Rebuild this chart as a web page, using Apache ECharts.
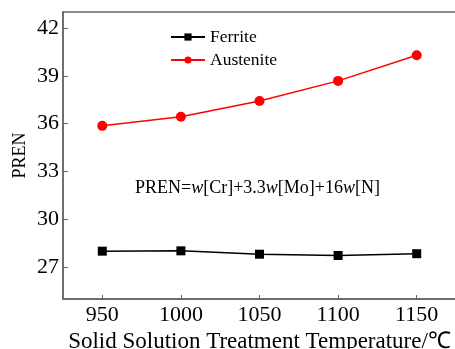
<!DOCTYPE html>
<html><head><meta charset="utf-8">
<script src="https://cdn.jsdelivr.net/npm/echarts@6/dist/echarts.min.js"></script>
<style>html,body{margin:0;padding:0;background:#fff}#c{width:455px;height:349px}</style>
</head><body><div id="c"></div>
<script>
var categories = [950, 1000, 1050, 1100, 1150];
var ferrite = [28.0, 28.02, 27.81, 27.73, 27.84];
var austenite = [35.86, 36.43, 37.42, 38.68, 40.29];
var yTicks = [27, 30, 33, 36, 39, 42];
var xTicks = [950, 1000, 1050, 1100, 1150];

var font = 'Liberation Serif';
var axisColor = '#666';
var chart = echarts.init(document.getElementById('c'));
chart.setOption({
  animation: false,
  grid: {left: 63, top: 12, width: 393, height: 287, show: true, borderColor: axisColor, borderWidth: 1.5,
         containLabel: false, outerBoundsMode: 'none'},
  legend: {
    orient: 'vertical', left: 165, top: 23, itemGap: 5, itemWidth: 34, itemHeight: 9,
    textStyle: {fontFamily: font, fontSize: 17.5, color: '#000'},
    data: ['Ferrite', 'Austenite']
  },
  xAxis: {
    type: 'value', min: 925, max: 1175,
    name: 'Solid Solution Treatment Temperature/℃', nameLocation: 'middle', nameGap: 31, nameMoveOverlap: false,
    nameTextStyle: {fontFamily: font, fontSize: 23, color: '#000'},
    axisLine: {lineStyle: {color: axisColor, width: 1.5}},
    axisTick: {inside: true, length: 4, lineStyle: {color: axisColor}, customValues: xTicks},
    axisLabel: {fontFamily: font, fontSize: 22, color: '#000', margin: 5, customValues: xTicks,
                formatter: function(v){return String(v);}},
    splitLine: {show: false}
  },
  yAxis: {
    type: 'value', min: 25, max: 43,
    name: 'PREN', nameLocation: 'middle', nameGap: 34, nameMoveOverlap: false,
    nameTextStyle: {fontFamily: font, fontSize: 18, color: '#000'},
    axisLine: {lineStyle: {color: axisColor, width: 1.5}},
    axisTick: {inside: true, length: 5, lineStyle: {color: axisColor}, customValues: yTicks},
    axisLabel: {fontFamily: font, fontSize: 22, color: '#000', margin: 4, customValues: yTicks},
    splitLine: {show: false}
  },
  graphic: [{
    type: 'text', left: 135, top: 179,
    style: {
      text: 'PREN={i|w}[Cr]+3.3{i|w}[Mo]+16{i|w}[N]',
      fontFamily: font, fontSize: 18, fill: '#000',
      rich: {i: {fontFamily: font, fontSize: 18, fontStyle: 'italic', fill: '#000'}}
    }
  }],
  series: [
    {name: 'Ferrite', type: 'line', data: categories.map(function(c, i){return [c, ferrite[i]];}),
     symbol: 'rect', symbolSize: 9, itemStyle: {color: '#000'}, lineStyle: {color: '#000', width: 1.5}},
    {name: 'Austenite', type: 'line', data: categories.map(function(c, i){return [c, austenite[i]];}),
     symbol: 'circle', symbolSize: 10, itemStyle: {color: '#ff0000'}, lineStyle: {color: '#ff0000', width: 1.5}}
  ]
});
</script></body></html>
